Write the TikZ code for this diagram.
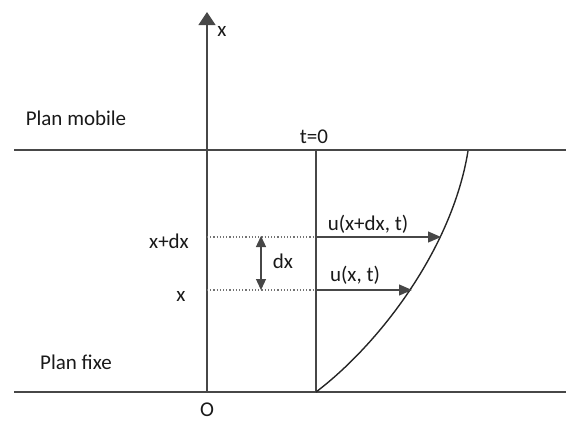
\documentclass[tikz,border=0pt]{standalone}
\usepackage{fontspec}
\setmainfont{Carlito}
\usetikzlibrary{arrows.meta}
\begin{document}
\begin{tikzpicture}[x=1pt,y=-1pt,
  lbl/.style={inner sep=0pt,font=\fontsize{21}{25}\selectfont,text=black!90},
  ln/.style={line width=1.3pt,draw=black!72},
  dotln/.style={line width=1.2pt,draw=black!55,dotted},
  arr/.style={line width=1.3pt,draw=black!72,-{Triangle[length=13pt,width=11pt]}},
  darr/.style={line width=1.3pt,draw=black!72,{Triangle[length=11pt,width=10pt]}-{Triangle[length=11pt,width=10pt]}}]
\useasboundingbox (0,0) rectangle (566,421);
% planes
\coordinate (TL) at (14,150); \coordinate (TR) at (566,150);
\coordinate (BL) at (14,392); \coordinate (BR) at (566,392);
\draw[ln] (TL) -- (TR);
\draw[ln] (BL) -- (BR);
% axis
\coordinate (O) at (207,392); \coordinate (Xtop) at (207,12);
\draw[ln,-{Triangle[length=13pt,width=17pt]}] (O) -- (Xtop);
% t=0 line
\coordinate (T0b) at (316,392); \coordinate (T0t) at (316,150);
\draw[ln] (T0b) -- (T0t);
% profile
\coordinate (C1) at (468,151);
\draw[line width=1.4pt,black!85] (T0b) .. controls (378,345) and (452,250) .. (C1);
% levels
\coordinate (A1) at (207,237); \coordinate (A2) at (316,237); \coordinate (A3) at (441,237);
\coordinate (B1) at (207,290); \coordinate (B2) at (316,290); \coordinate (B3) at (412,290);
\draw[dotln] (A1) -- (A2);
\draw[dotln] (B1) -- (B2);
\draw[arr] (A2) -- (A3);
\draw[arr] (B2) -- (B3);
\coordinate (D1) at (261,236); \coordinate (D2) at (261,290);
\draw[darr] (D1) -- (D2);
% labels
\node[lbl] (lx) at (222,31) {x};
\node[lbl] (lpm) at (76,118) {Plan mobile};
\node[lbl] (lpf) at (76,362) {Plan fixe};
\node[lbl] (lt) at (314,137) {t=0};
\node[lbl] (lxdx) at (169,241) {x+dx};
\node[lbl] (lxx) at (181,296) {x};
\node[lbl] (ldx) at (283,261) {dx};
\node[lbl] (lu1) at (368,224) {u(x+dx, t)};
\node[lbl] (lu2) at (355,275) {u(x, t)};
\node[lbl] (lO) at (207,410) {O};
\end{tikzpicture}
\end{document}
